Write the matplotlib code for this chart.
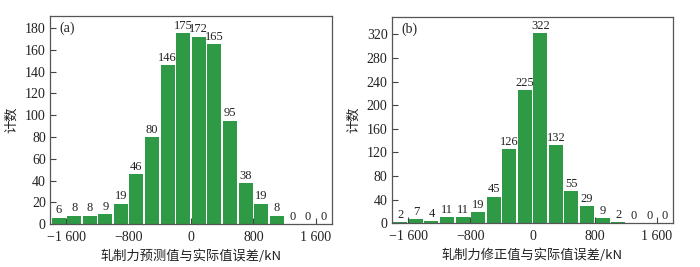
import matplotlib
matplotlib.use("Agg")
import matplotlib.pyplot as plt
import numpy as np

bin_centers = [-1700 + 200 * i for i in range(18)]
counts_a = [6, 8, 8, 9, 19, 46, 80, 146, 175, 172, 165, 95, 38, 19, 8, 0, 0, 0]
counts_b = [2, 7, 4, 11, 11, 19, 45, 126, 225, 322, 132, 55, 29, 9, 2, 0, 0, 0]
xticks = [-1600, -800, 0, 800, 1600]
xtick_labels = ["\u22121 600", "\u2212800", "0", "800", "1 600"]
yticks_a = list(range(0, 181, 20))
yticks_b = list(range(0, 321, 40))
xlabel_a = "轧制力预测值与实际值误差/kN"
xlabel_b = "轧制力修正值与实际值误差/kN"
ylabel = "计数"
panel_a = "(a)"
panel_b = "(b)"

green = "#2e9a46"
txt = "#222222"
serif = ["Liberation Serif", "DejaVu Serif"]
cjk = ["Noto Sans CJK SC", "DejaVu Sans"]

fig = plt.figure(figsize=(7.0, 2.67), dpi=100)
ax_a = fig.add_axes([0.0714, 0.160, 0.4029, 0.780])
ax_b = fig.add_axes([0.5596, 0.1637, 0.4023, 0.7738])

def draw(ax, counts, yticks, ylim, xlabel, panel):
    ax.bar(bin_centers, counts, width=180, color=green, edgecolor="none", zorder=2)
    for x, c in zip(bin_centers, counts):
        ax.text(x, c + ylim * 0.006, str(c), ha="center", va="bottom",
                fontsize=9, family=serif, color=txt)
    ax.set_xlim(-1810, 1810)
    ax.set_ylim(0, ylim)
    ax.set_xticks(xticks)
    ax.set_xticklabels(xtick_labels, family=serif, fontsize=10, color=txt)
    ax.set_yticks(yticks)
    ax.set_yticklabels([str(v) for v in yticks], family=serif, fontsize=10, color=txt)
    ax.tick_params(direction="in", length=4, width=0.8, color="#444444")
    ax.tick_params(axis="x", pad=5)
    ax.tick_params(axis="y", pad=3)
    for s in ax.spines.values():
        s.set_color("#555555")
        s.set_linewidth(0.9)
    ax.set_xlabel(xlabel, family=cjk, fontsize=9.5, color=txt, labelpad=4)
    ax.set_ylabel(ylabel, family=cjk, fontsize=9.5, color=txt, labelpad=5)
    ax.text(0.035, 0.94, panel, transform=ax.transAxes, ha="left", va="center",
            fontsize=10, family=serif, color=txt)

draw(ax_a, counts_a, yticks_a, 191, xlabel_a, panel_a)
draw(ax_b, counts_b, yticks_b, 350, xlabel_b, panel_b)

fig.savefig("out.png", dpi=100)
